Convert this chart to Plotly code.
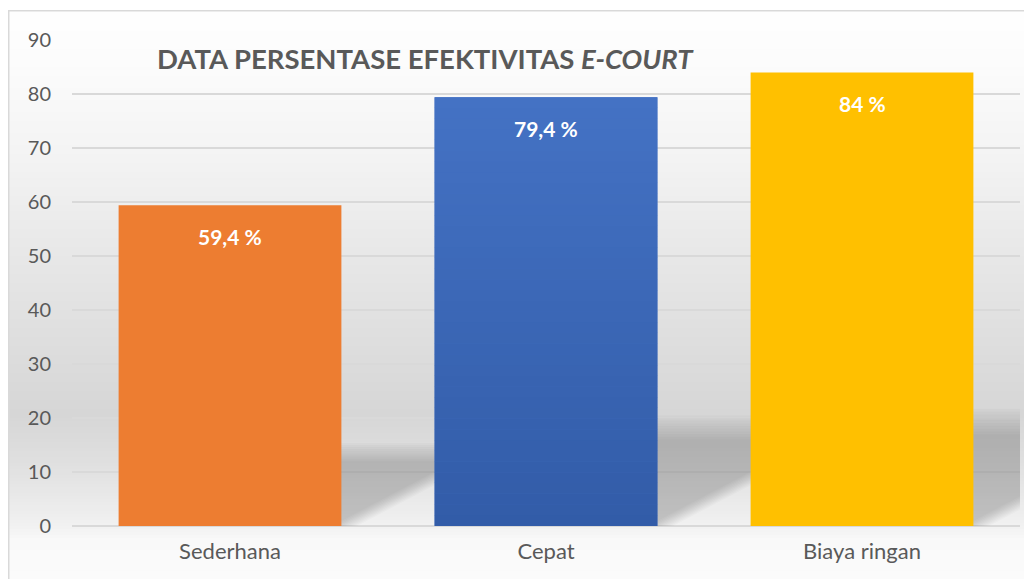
import plotly.graph_objects as go

# ---------------- data ----------------
categories = ["Sederhana", "Cepat", "Biaya ringan"]
values = [59.4, 79.4, 84.0]
value_labels = ["59,4 %", "79,4 %", "84 %"]
y_ticks = [0, 10, 20, 30, 40, 50, 60, 70, 80, 90]

# ---------------- style ----------------
bar_colors = ["#ED7D31", "#4472C4", "#FFC000"]
OFF = 8                      # page body margin of the browser
W, H = 1032 - OFF, 579 - OFF
ML, MR, MT, MB = 72 - OFF, 12, 40 - OFF, 53
PW, PH = W - ML - MR, H - MT - MB
BAR_FRAC = 0.705
FONT = "Lato"
GREY_TXT = "#595959"
GRID = "#d9d9d9"


def px_x(px):  # screenshot pixel -> paper
    return (px - OFF - ML) / PW


def px_y(py):
    return (H - MB - (py - OFF)) / PH


# background gradient stops (screen pixel y, grey level)
bg_stops = [(0, 255), (60, 252), (150, 244), (250, 232), (350, 221), (415, 214),
            (465, 224), (526, 241), (540, 249), (600, 252)]


def grey_at(py):
    for (y0, g0), (y1, g1) in zip(bg_stops[:-1], bg_stops[1:]):
        if y0 <= py <= y1:
            t = (py - y0) / (y1 - y0)
            return g0 + (g1 - g0) * t
    return bg_stops[-1][1]


shapes = []
step = 3
for py in range(10, 600, step):
    g = int(round(grey_at(py + step / 2)))
    shapes.append(dict(type="rect", xref="paper", yref="paper", layer="below",
                       x0=px_x(8.75), x1=px_x(1060), y0=px_y(py + step), y1=px_y(py),
                       fillcolor=f"rgb({g},{g},{g})", line=dict(width=0)))

# perspective shadows behind bars (drawn over gridlines, under bars)
hw = BAR_FRAC / 2
shadow_k = 0.235
n_layers = 10
for i, v in enumerate(values):
    for L in range(n_layers):
        t = L / (n_layers - 1)
        s = 0.86 + 0.24 * t
        e = -0.03 + 0.08 * t
        h = v * shadow_k * s
        dx = h * (PH / 90) * 1.9 / (PW / 3)
        path = (f"M {i - hw},0 L {i + hw + e},0 L {i + hw + e + dx},{h} "
                f"L {i - hw + dx},{h} Z")
        shapes.append(dict(type="path", xref="x", yref="y", layer="between",
                           path=path, fillcolor="rgba(0,0,0,0.021)",
                           line=dict(width=0)))

# vertical gradient on the blue bar
top_c, bot_c = (68, 114, 196), (50, 92, 168)
N = 40
bi = 1
for j in range(N):
    t = (j + 0.5) / N
    c = tuple(int(round(bot_c[k] + (top_c[k] - bot_c[k]) * t)) for k in range(3))
    shapes.append(dict(type="rect", xref="x", yref="y", layer="above",
                       x0=bi - hw, x1=bi + hw,
                       y0=values[bi] * j / N, y1=min(values[bi], values[bi] * (j + 1) / N + 0.05),
                       fillcolor=f"rgb{c}", line=dict(width=0)))

# chart border
shapes.append(dict(type="rect", xref="paper", yref="paper", layer="above",
                   x0=px_x(8.75), x1=px_x(1080), y0=px_y(620), y1=px_y(10.75),
                   fillcolor="rgba(0,0,0,0)", line=dict(color="#d9d9d9", width=1.5)))

fig = go.Figure()
fig.add_trace(go.Bar(x=list(range(len(categories))), y=values,
                     marker=dict(color=bar_colors, line=dict(width=0)),
                     hoverinfo="skip"))

annotations = []
for i, (v, lab) in enumerate(zip(values, value_labels)):
    annotations.append(dict(x=i, y=v, xref="x", yref="y", text=f"<b>{lab}</b>",
                            showarrow=False, yanchor="middle", yshift=-31,
                            font=dict(family=FONT, size=21, color="white")))

annotations.append(dict(x=px_x(155), y=px_y(59), xref="paper", yref="paper",
                        xanchor="left", yanchor="middle", showarrow=False,
                        text="<b>DATA PERSENTASE EFEKTIVITAS <i>E-COURT</i></b>",
                        font=dict(family=FONT, size=27.5, color=GREY_TXT)))

fig.update_layout(
    width=W, height=H,
    margin=dict(l=ML, r=MR, t=MT, b=MB, pad=0),
    paper_bgcolor="white", plot_bgcolor="rgba(0,0,0,0)",
    bargap=1 - BAR_FRAC, showlegend=False,
    shapes=shapes, annotations=annotations,
    font=dict(family=FONT, color=GREY_TXT),
    xaxis=dict(tickmode="array", tickvals=list(range(len(categories))),
               ticktext=categories, range=[-0.5, len(categories) - 0.5],
               showgrid=False, zeroline=False, showline=False, ticks="",
               tickfont=dict(family=FONT, size=22, color=GREY_TXT),
               ticklabelstandoff=10, fixedrange=True),
    yaxis=dict(range=[0, 90], tickmode="array", tickvals=y_ticks,
               showgrid=True, gridcolor=GRID, gridwidth=1.5,
               zeroline=True, zerolinecolor=GRID, zerolinewidth=2,
               showline=False, ticks="",
               tickfont=dict(family=FONT, size=20, color=GREY_TXT),
               ticklabelstandoff=20, fixedrange=True),
)

fig.write_html("out.html")
